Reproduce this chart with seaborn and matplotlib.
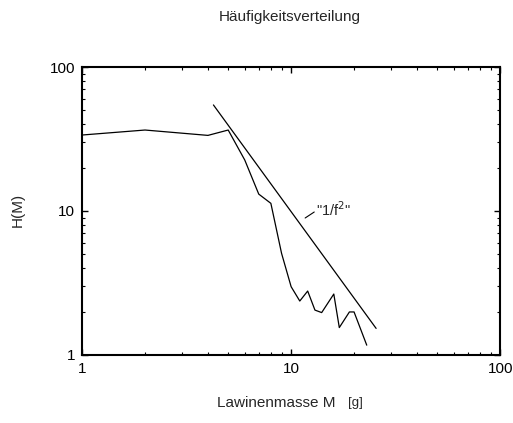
import matplotlib
matplotlib.use("Agg")
import matplotlib.pyplot as plt
import numpy as np
import pandas as pd
import seaborn as sns
from matplotlib.ticker import LogLocator, NullFormatter, FixedLocator, FixedFormatter

# avalanche mass (g) and frequency H(M)
masse = [1, 2, 4, 5, 6, 7, 8, 9, 10, 11, 12, 13, 14, 16, 17, 19, 20, 23]
haeufigkeit = [33.7, 36.5, 33.5, 36.5, 22.6, 13.1, 11.3, 5.08, 2.98, 2.37,
               2.78, 2.05, 1.97, 2.65, 1.55, 1.99, 1.99, 1.17]

# reference line "1/f^2" (two end points)
fit_x = [4.25, 25.5]
fit_y = [54.5, 1.53]

sns.set_theme(style="ticks")
plt.rcParams["font.family"] = ["Liberation Sans", "DejaVu Sans"]
plt.rcParams["axes.linewidth"] = 1.4

fig = plt.figure(figsize=(5.13, 4.23), dpi=100)
ax = fig.add_axes([0.160, 0.1608, 0.815, 0.6808])

df = pd.DataFrame({"M": masse, "H": haeufigkeit})
sns.lineplot(data=df, x="M", y="H", ax=ax, color="black", linewidth=0.9,
             estimator=None, sort=False)
sns.lineplot(x=fit_x, y=fit_y, ax=ax, color="black", linewidth=0.9,
             estimator=None, sort=False)

ax.set_xscale("log")
ax.set_yscale("log")
ax.set_xlim(1, 100)
ax.set_ylim(1, 100)

for axis in (ax.xaxis, ax.yaxis):
    axis.set_major_locator(FixedLocator([1, 10, 100]))
    axis.set_major_formatter(FixedFormatter(["1", "10", "100"]))
    axis.set_minor_locator(LogLocator(base=10, subs=np.arange(2, 10)))
    axis.set_minor_formatter(NullFormatter())

ax.tick_params(which="both", direction="in", top=True, right=True,
               color="black", labelsize=11, labelcolor="black")
ax.tick_params(which="major", length=4.5, width=1.0, pad=5)
ax.tick_params(which="minor", length=2.5, width=0.8)
for sp in ax.spines.values():
    sp.set_color("black")
    sp.set_linewidth(1.5)

ax.set_xlabel("")
ax.set_ylabel("")

# annotation for the reference line
ax.plot([11.67, 12.9], [8.94, 9.84], color="black", linewidth=0.8)
ax.text(13.1, 10.2, '"1/f$^2$"', fontsize=10.5, va="center", ha="left")

fig.text(0.565, 0.96, "Häufigkeitsverteilung", ha="center", va="center", fontsize=11)
fig.text(0.423, 0.047, "Lawinenmasse M", ha="left", va="center", fontsize=11)
fig.text(0.678, 0.047, "[g]", ha="left", va="center", fontsize=9.5)
fig.text(0.035, 0.503, "H(M)", ha="center", va="center", rotation=90, fontsize=11)

fig.savefig("out.png", dpi=100)
